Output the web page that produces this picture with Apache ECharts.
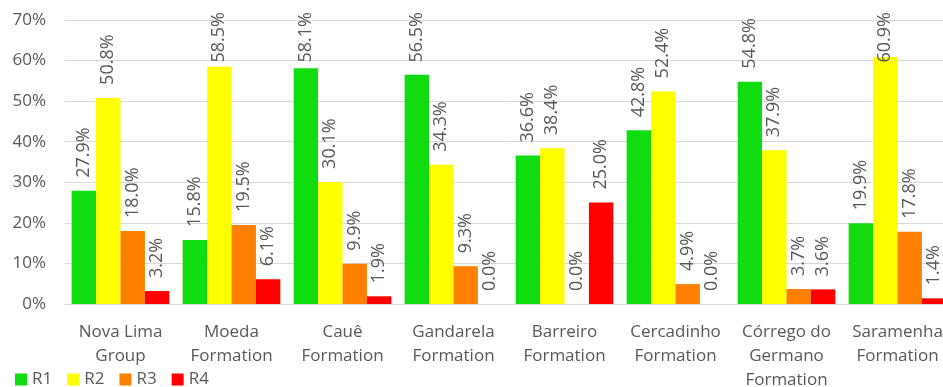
<!DOCTYPE html>
<html>
<head>
<meta charset="utf-8">
<script src="https://cdn.jsdelivr.net/npm/echarts@6/dist/echarts.min.js"></script>
<style>
html,body{margin:0;padding:0;background:#fff;}
#c{width:943px;height:387px;}
</style>
</head>
<body>
<div id="c"></div>
<script>
const categories = ["Nova Lima\nGroup", "Moeda\nFormation", "Cauê\nFormation", "Gandarela\nFormation", "Barreiro\nFormation", "Cercadinho\nFormation", "Córrego do\nGermano\nFormation", "Saramenha\nFormation"];
const r1 = [27.9, 15.8, 58.1, 56.5, 36.6, 42.8, 54.8, 19.9];
const r2 = [50.8, 58.5, 30.1, 34.3, 38.4, 52.4, 37.9, 60.9];
const r3 = [18.0, 19.5, 9.9, 9.3, 0.0, 4.9, 3.7, 17.8];
const r4 = [3.2, 6.1, 1.9, 0.0, 25.0, 0.0, 3.6, 1.4];
const seriesNames = ["R1", "R2", "R3", "R4"];
const yTicks = [0, 10, 20, 30, 40, 50, 60, 70];

const colors = ['#10dc10', '#ffff00', '#ff7f00', '#ff0000'];
const font = 'Open Sans';
const txt = '#595959';
const LABEL_DIST = 13;
const LABEL_MIN_TOP = 12;
const LABEL_SIZE = 18;
const fmt = v => v.toFixed(1) + '%';

const chart = echarts.init(document.getElementById('c'), null, {renderer: 'canvas'});
const allSeries = [r1, r2, r3, r4];
const mk = (name, data, i) => ({
  name: name,
  type: 'bar',
  data: data.map(v => ({value: v})),
  barGap: '0%',
  barCategoryGap: '12%',
  itemStyle: {color: colors[i]},
  label: {
    show: true,
    position: 'top',
    rotate: 90,
    align: 'left',
    verticalAlign: 'middle',
    distance: LABEL_DIST,
    color: txt,
    fontFamily: font,
    fontSize: LABEL_SIZE,
    formatter: p => fmt(p.value)
  }
});
chart.setOption({
  animation: false,
  color: colors,
  grid: {left: 65, right: -10, top: 20, bottom: 83, containLabel: false, outerBoundsMode: 'none'},
  legend: {
    data: seriesNames,
    left: 10,
    top: 366,
    icon: 'rect',
    itemWidth: 12,
    itemHeight: 12,
    itemGap: 15,
    textStyle: {color: txt, fontFamily: font, fontSize: 17}
  },
  xAxis: {
    type: 'category',
    data: categories,
    axisTick: {show: false},
    axisLine: {lineStyle: {color: '#d9d9d9', width: 1}},
    axisLabel: {color: txt, fontFamily: font, fontSize: 17, lineHeight: 24, margin: 16, interval: 0}
  },
  yAxis: {
    type: 'value',
    min: yTicks[0],
    max: yTicks[yTicks.length - 1],
    interval: 10,
    axisLine: {show: false},
    axisTick: {show: false},
    splitLine: {lineStyle: {color: '#d9d9d9', width: 1}},
    axisLabel: {color: txt, fontFamily: font, fontSize: 17, margin: 19, formatter: '{value}%'}
  },
  series: allSeries.map((d, i) => mk(seriesNames[i], d, i))
});

// Keep rotated labels inside the plot top (like the original), by shrinking label distance where needed
const ctx = document.createElement('canvas').getContext('2d');
ctx.font = LABEL_SIZE + 'px "' + font + '"';
chart.setOption({
  series: allSeries.map((d, si) => ({
    data: d.map((v, ci) => {
      const top = chart.convertToPixel({seriesIndex: si}, [ci, v])[1];
      const len = ctx.measureText(fmt(v)).width;
      const free = top - LABEL_DIST - len;
      if (free < LABEL_MIN_TOP) {
        return {value: v, label: {distance: top - LABEL_MIN_TOP - len}};
      }
      return {value: v};
    })
  }))
});
</script>
</body>
</html>
